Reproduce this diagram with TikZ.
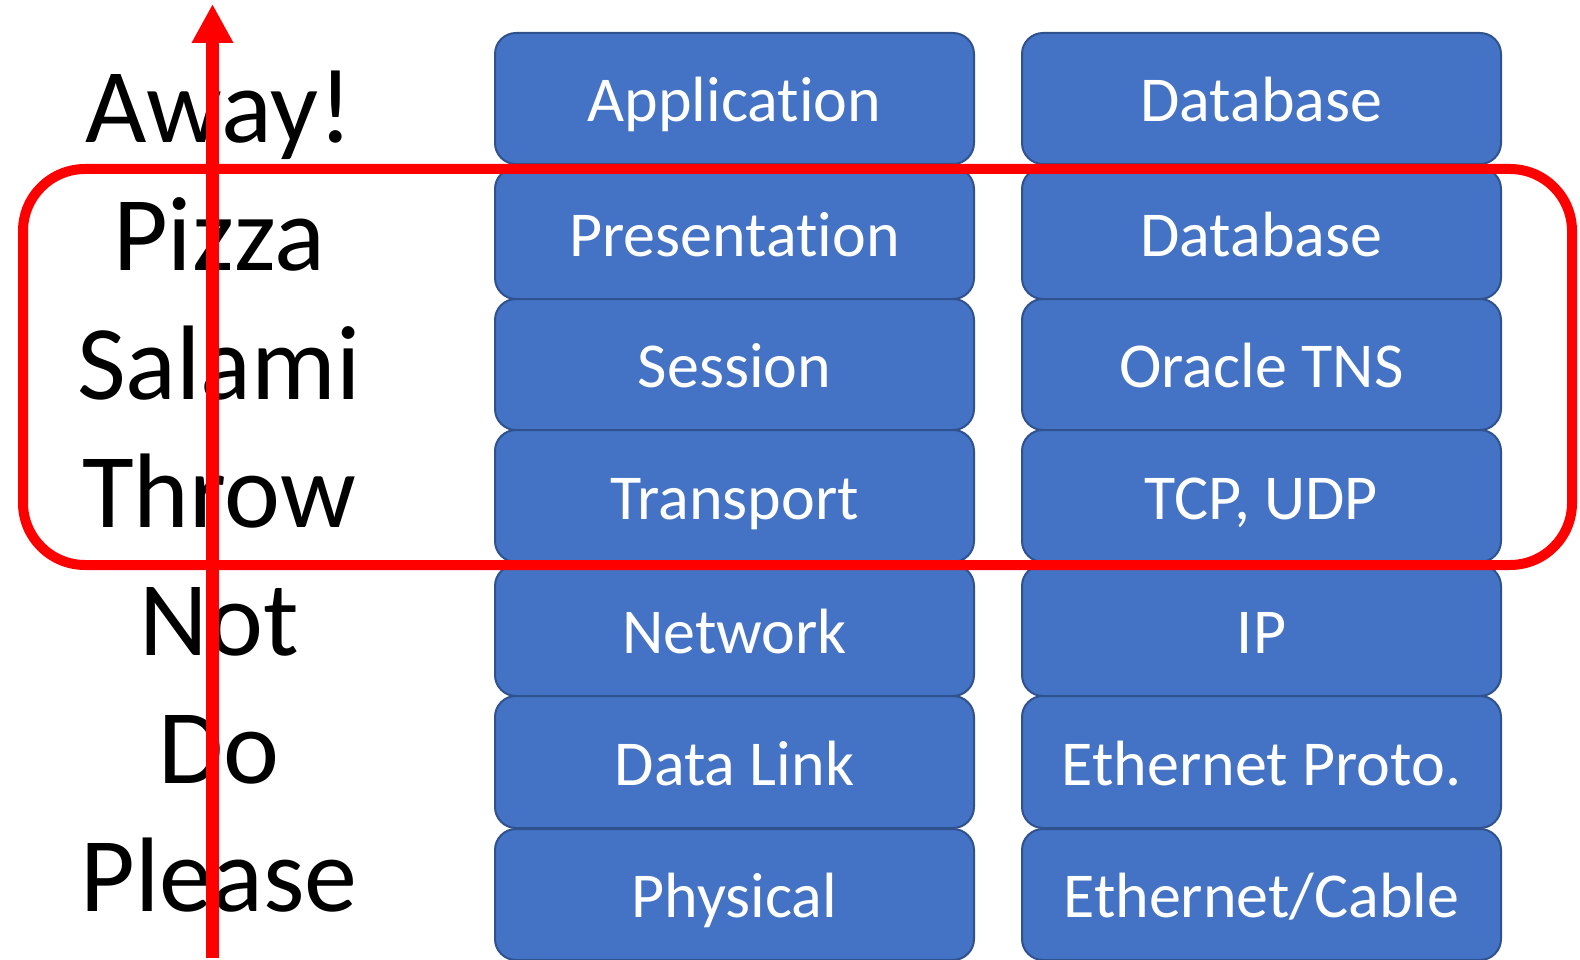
\documentclass[tikz,border=0pt]{standalone}
\usepackage{fontspec}
\setmainfont[Ligatures={NoCommon,NoContextual}]{Carlito}
\usetikzlibrary{arrows.meta}
\definecolor{boxfill}{HTML}{4472C4}
\definecolor{boxline}{HTML}{2F528F}
\definecolor{mred}{HTML}{FF0000}
\tikzset{
  layer/.style={draw=boxline, line width=2pt, fill=boxfill, rounded corners=21pt,
    text=white, font=\fontsize{64}{70}\selectfont, inner sep=0pt,
    text height=52pt, text depth=6pt, minimum width=479pt},
  word/.style={font=\fontsize{106}{120}\selectfont, anchor=base, inner sep=0pt},
  frame/.style={draw=mred, line width=10pt, rounded corners=62pt, inner sep=0pt},
  updir/.style={draw=mred, line width=13pt, -{Triangle[width=39pt,length=39pt]}}
}
\begin{document}
\begin{tikzpicture}[x=1pt,y=-1pt]
\useasboundingbox (0,0) rectangle (1580,960);
% left column
\node[layer, minimum height=131pt] (app)  at (734.5, 98.5) {Application};
\node[layer, minimum height=131pt] (pres) at (734.5,233.5) {Presentation};
\node[layer, minimum height=131pt] (sess) at (734.5,364.5) {Session};
\node[layer, minimum height=132pt] (tran) at (734.5,496) {Transport};
\node[layer, minimum height=131pt] (netw) at (734.5,630.5) {Network};
\node[layer, minimum height=132pt] (dlnk) at (734.5,762) {Data Link};
\node[layer, minimum height=131pt] (phys) at (734.5,894.5) {Physical};
% right column
\node[layer, minimum height=131pt] (rapp)  at (1261.5, 98.5) {Database};
\node[layer, minimum height=131pt] (rpres) at (1261.5,233.5) {Database};
\node[layer, minimum height=131pt] (rsess) at (1261.5,364.5) {Oracle TNS};
\node[layer, minimum height=132pt] (rtran) at (1261.5,496) {TCP, UDP};
\node[layer, minimum height=131pt] (rnetw) at (1261.5,630.5) {IP};
\node[layer, minimum height=132pt] (rdlnk) at (1261.5,762) {Ethernet Proto.};
\node[layer, minimum height=131pt] (rphys) at (1261.5,894.5) {Ethernet/Cable};
% mnemonic words
\node[word] (w1) at (219,143) {Away!};
\node[word] (w2) at (219,271) {Pizza};
\node[word] (w3) at (219,399) {Salami};
\node[word] (w4) at (219,527) {Throw};
\node[word] (w5) at (219,655) {Not};
\node[word] (w6) at (219,783) {Do};
\node[word] (w7) at (219,911) {Please};
% highlight frame
\node[frame, minimum width=1549pt, minimum height=396pt] (hl) at (797.5,367) {};
% upward arrow
\coordinate (abot) at (212.5,958);
\coordinate (atop) at (212.5,4);
\draw[updir] (abot) -- (atop);
\end{tikzpicture}
\end{document}
